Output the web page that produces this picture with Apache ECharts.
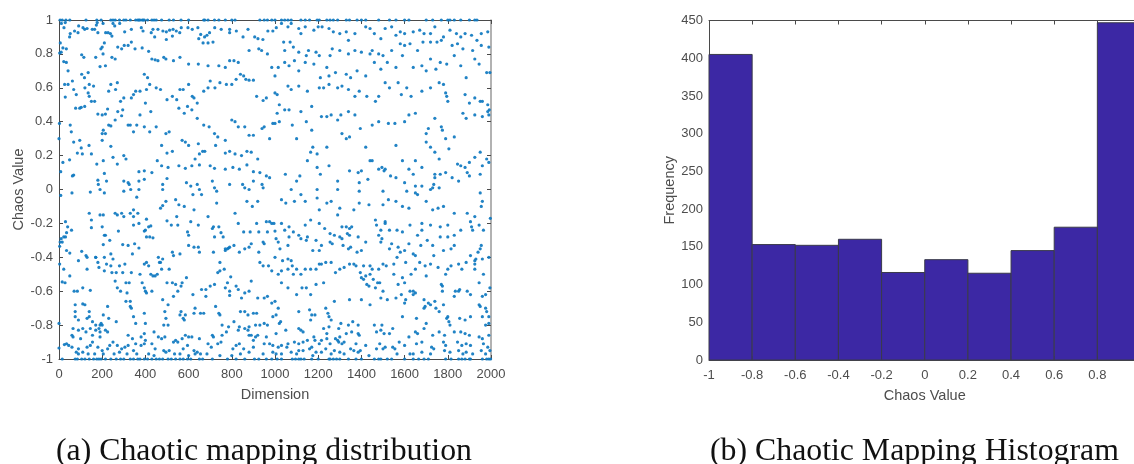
<!DOCTYPE html>
<html><head><meta charset="utf-8">
<style>html,body{margin:0;padding:0;background:#fff}#c{width:1134px;height:464px}</style>
<script src="https://cdn.jsdelivr.net/npm/echarts@6/dist/echarts.min.js"></script>
</head><body><div id="c"></div>
<script>
// Points along the top and bottom bounds of the scatter (dimension only)
const topEdgeDims=[5,15,32,50,125,175,195,240,250,260,280,300,310,330,355,365,370,375,385,390,395,410,430,440,450,475,510,530,565,600,670,675,690,720,740,770,800,815,930,950,965,985,1000,1030,1045,1060,1075,1120,1140,1160,1195,1205,1240,1255,1270,1290,1330,1345,1380,1400,1420,1480,1530,1560,1600,1620,1700,1730,1770,1800,1810,1830,1860,1900,1925,1935];
const bottomEdgeDims=[15,75,85,105,120,140,160,175,185,195,215,240,265,285,300,330,345,365,375,395,410,430,450,465,480,505,520,540,560,575,595,610,650,665,710,780,820,860,905,925,960,985,1010,1030,1080,1095,1110,1120,1135,1170,1200,1250,1255,1270,1285,1300,1340,1375,1400,1460,1480,1490,1520,1540,1600,1640,1665,1690,1710,1790,1815,1850,1865,1880,1900,1905,1960,1980,1990,1998];
// Interior points: [dimension, chaos value]
const upperLeft=[[6,.865],[10,.81],[3,.805],[18,.835],[34,.83],[22,.755],[34,.75],[42,.7],[62,.64],[26,.62],[42,.62],[68,.59],[80,.56],[29,.545],[77,.48],[96,.48],[103,.485],[119,.49],[52,.38],[2,.39],[57,.34],[0,.3],[68,.28],[96,.29],[85,.215],[103,.245],[108,.21],[139,.26],[150,.21],[49,.175],[18,.16],[8,.105],[62,.08],[68,.085],[175,.15],[205,.17],[180,.055],[182,.03],[210,.095],[11,.98],[29,.985],[23,.955],[52,.92],[49,.9],[72,.935],[88,.925],[91,.965],[111,.955],[119,.945],[130,.95],[154,.945],[165,.945],[177,.985],[180,.925],[173,.97],[216,.925],[227,.925],[238,.92],[245,.905],[204,.98],[250,.98],[258,.965],[281,.98],[304,.93],[335,.945],[381,.955],[389,.935],[427,.925],[435,.945],[458,.945],[443,.9],[481,.935],[497,.93],[512,.94],[528,.945],[543,.935],[559,.925],[525,.905],[497,.885],[566,.955],[597,.955],[617,.945],[643,.955],[656,.915],[674,.9],[685,.91],[697,.925],[647,.89],[667,.865],[690,.865],[713,.87],[721,.955],[751,.945],[790,.945],[790,.925],[821,.935],[852,.9],[875,.945],[906,.9],[921,.89],[944,.885],[967,.935],[990,.935],[1006,.955],[210,.865],[200,.84],[194,.83],[204,.8],[105,.795],[115,.78],[170,.78],[190,.725],[215,.73],[245,.78],[260,.77],[272,.84],[290,.83],[302,.85],[320,.85],[335,.87],[352,.83],[385,.835],[415,.815],[430,.77],[445,.765],[458,.76],[485,.78],[495,.77],[530,.76],[560,.78],[600,.74],[645,.74],[690,.73],[740,.73],[770,.72],[790,.76],[810,.76],[830,.75],[855,.67],[880,.82],[925,.83],[938,.82],[965,.8],[985,.72],[1000,.67],[1015,.72],[105,.68],[118,.66],[135,.69],[120,.6],[140,.62],[160,.61],[140,.55],[135,.57],[150,.52],[165,.52],[240,.62],[270,.63],[262,.59],[230,.58],[285,.52],[300,.54],[335,.54],[345,.56],[355,.58],[375,.58],[405,.59],[395,.68],[410,.66],[420,.62],[450,.6],[470,.59],[500,.53],[525,.55],[545,.53],[560,.59],[575,.59],[600,.62],[617,.55],[625,.54],[640,.51],[670,.58],[690,.6],[700,.64],[722,.6],[745,.63],[775,.62],[800,.62],[820,.65],[840,.68],[865,.65],[880,.645],[900,.645],[915,.55],[945,.525],[960,.54],[1000,.57],[1010,.56],[1020,.5],[180,.445],[200,.44],[215,.445],[225,.475],[230,.38],[240,.375],[215,.33],[200,.33],[205,.35],[260,.41],[272,.46],[290,.435],[295,.47],[320,.38],[330,.38],[345,.34],[360,.38],[375,.44],[400,.51],[425,.46],[395,.37],[420,.34],[450,.37],[495,.33],[510,.34],[555,.48],[580,.45],[595,.49],[615,.47],[640,.42],[670,.38],[695,.37],[720,.33],[735,.31],[770,.29],[800,.41],[815,.4],[830,.37],[860,.37],[880,.32],[900,.32],[940,.36],[950,.37],[990,.39],[1000,.39],[1010,.45],[1020,.4],[200,.29],[240,.255],[250,.19],[270,.15],[300,.2],[310,.18],[370,.105],[395,.11],[430,.1],[455,.17],[475,.14],[505,.13],[555,.14],[585,.125],[615,.14],[650,.145],[700,.14],[720,.125],[770,.12],[805,.13],[835,.12],[870,.145],[900,.105],[930,.1],[960,.08],[975,.07],[725,.26],[770,.215],[790,.225],[815,.21],[845,.2],[870,.225],[890,.22],[920,.18],[975,.3],[645,.27],[665,.225],[675,.225],[650,.21],[630,.18],[475,.26],[500,.215],[525,.225],[570,.29],[585,.28],[600,.26],[220,.05],[190,.0],[300,.05],[320,.04],[325,.03],[332,.0],[370,.05],[370,.0],[395,.06],[480,.03],[480,.0],[500,.065],[590,.04],[610,.02],[640,.03],[650,.0],[710,.05],[720,.01],[730,-.01],[790,.03],[850,.03],[860,.01],[880,.0],[900,.05],[940,.03],[945,.01]];
const upperRight=[[1030,.98],[1060,.96],[1075,.98],[1110,.95],[1120,.92],[1140,.96],[1180,.94],[1200,.96],[1218,.96],[1250,.95],[1270,.93],[1300,.92],[1330,.93],[1340,.88],[1370,.92],[1420,.96],[1440,.95],[1460,.92],[1490,.89],[1510,.95],[1540,.96],[1560,.91],[1580,.93],[1600,.92],[1640,.93],[1670,.94],[1690,.92],[1720,.92],[1740,.96],[1780,.9],[1810,.94],[1840,.92],[1860,.9],[1880,.92],[1910,.91],[1935,.88],[1955,.92],[1985,.93],[1040,.87],[1045,.82],[1070,.87],[1085,.84],[1110,.81],[1145,.79],[1155,.82],[1190,.81],[1205,.79],[1255,.79],[1265,.83],[1300,.82],[1340,.8],[1370,.82],[1400,.81],[1440,.8],[1450,.82],[1480,.8],[1500,.79],[1540,.82],[1580,.86],[1600,.85],[1625,.86],[1660,.82],[1685,.87],[1720,.87],[1750,.87],[1770,.88],[1820,.85],[1845,.86],[1870,.83],[1915,.82],[1955,.85],[1990,.84],[1045,.75],[1065,.73],[1090,.76],[1110,.7],[1140,.75],[1180,.74],[1210,.66],[1240,.72],[1250,.67],[1280,.69],[1330,.68],[1350,.66],[1380,.7],[1420,.67],[1460,.75],[1490,.71],[1520,.75],[1560,.72],[1590,.79],[1640,.72],[1680,.73],[1700,.7],[1720,.77],[1745,.71],[1765,.75],[1795,.74],[1830,.79],[1860,.73],[1885,.66],[1925,.77],[1945,.74],[1980,.69],[1995,.69],[1060,.61],[1075,.59],[1110,.61],[1150,.58],[1170,.49],[1205,.6],[1225,.6],[1250,.62],[1290,.6],[1310,.61],[1340,.59],[1370,.55],[1390,.58],[1425,.55],[1465,.52],[1480,.55],[1510,.63],[1530,.6],[1570,.63],[1585,.56],[1610,.6],[1630,.55],[1680,.58],[1720,.6],[1760,.63],[1780,.62],[1790,.57],[1795,.55],[1800,.52],[1880,.56],[1900,.51],[1925,.54],[1950,.52],[1960,.52],[1985,.5],[1992,.47],[1045,.47],[1065,.47],[1120,.46],[1145,.4],[1170,.35],[1215,.43],[1240,.43],[1260,.44],[1290,.41],[1305,.44],[1340,.46],[1370,.44],[1395,.36],[1450,.38],[1480,.4],[1525,.39],[1555,.39],[1600,.4],[1620,.44],[1650,.45],[1700,.33],[1710,.36],[1740,.42],[1770,.37],[1775,.35],[1870,.45],[1885,.42],[1925,.44],[1960,.43],[1985,.46],[1990,.44],[1080,.38],[1100,.3],[1150,.17],[1165,.22],[1175,.25],[1195,.21],[1240,.25],[1250,.14],[1310,.33],[1330,.3],[1345,.31],[1385,.1],[1400,.11],[1420,.25],[1440,.17],[1450,.17],[1480,.12],[1495,.13],[1505,.11],[1560,.26],[1590,.17],[1620,.12],[1650,.17],[1680,.13],[1700,.28],[1720,.25],[1740,.22],[1760,.18],[1790,.3],[1805,.24],[1830,.31],[1860,.14],[1880,.13],[1900,.16],[1925,.19],[1950,.22],[1960,.14],[1980,.18],[1990,.16],[1048,.09],[1100,.05],[1115,.08],[1195,.13],[1210,.09],[1290,.05],[1345,.11],[1390,.04],[1430,.06],[1510,.12],[1535,.08],[1560,.07],[1600,.04],[1640,.09],[1680,.02],[1730,.01],[1735,.03],[1740,.07],[1765,.09],[1790,.1],[1820,.07],[1850,.05],[1890,.1],[1900,.08],[1950,.09],[1845,.15],[1740,.09],[1075,.0],[1195,.0],[1290,.0],[1390,-.01],[1500,-.01],[1610,-.01],[1650,.02],[1650,-.02],[1720,.0],[1760,.01],[1950,-.02]];
const lowerLeft=[[8,-.035],[60,-.02],[145,-.015],[210,-.02],[300,-.01],[360,-.045],[470,-.11],[480,-.095],[495,-.07],[540,-.06],[580,-.1],[555,-.09],[620,-.03],[660,-.03],[730,-.08],[870,-.07],[920,-.07],[895,-.1],[140,-.14],[190,-.15],[205,-.15],[260,-.14],[270,-.15],[290,-.14],[300,-.16],[330,-.14],[345,-.16],[345,-.12],[365,-.14],[30,-.19],[40,-.22],[35,-.255],[58,-.24],[150,-.18],[150,-.225],[200,-.22],[210,-.27],[215,-.27],[275,-.245],[345,-.21],[370,-.2],[405,-.175],[415,-.22],[400,-.24],[395,-.245],[405,-.28],[420,-.28],[435,-.285],[425,-.215],[500,-.185],[520,-.21],[545,-.16],[550,-.21],[610,-.19],[595,-.25],[600,-.27],[625,-.12],[645,-.21],[690,-.16],[710,-.23],[715,-.22],[740,-.22],[750,-.255],[760,-.28],[720,-.28],[790,-.34],[815,-.14],[830,-.2],[855,-.25],[885,-.25],[915,-.2],[925,-.25],[960,-.19],[975,-.19],[985,-.2],[995,-.2],[1000,-.245],[965,-.25],[945,-.31],[950,-.32],[1005,-.29],[1015,-.31],[5,-.31],[15,-.31],[22,-.28],[3,-.335],[30,-.28],[10,-.29],[35,-.36],[50,-.375],[90,-.42],[105,-.365],[125,-.39],[130,-.4],[170,-.4],[180,-.43],[210,-.4],[205,-.325],[235,-.3],[240,-.38],[250,-.41],[295,-.325],[320,-.33],[340,-.38],[350,-.32],[370,-.345],[405,-.43],[460,-.4],[470,-.43],[475,-.47],[500,-.55],[510,-.47],[525,-.37],[530,-.39],[560,-.38],[600,-.33],[625,-.34],[645,-.34],[650,-.37],[715,-.37],[745,-.43],[770,-.36],[780,-.35],[785,-.345],[765,-.47],[770,-.35],[810,-.33],[835,-.37],[860,-.35],[880,-.34],[890,-.32],[925,-.37],[930,-.43],[945,-.45],[970,-.45],[985,-.48],[1000,-.4],[1015,-.5],[3,-.44],[22,-.47],[28,-.55],[15,-.545],[50,-.51],[70,-.6],[85,-.6],[110,-.58],[130,-.47],[145,-.595],[170,-.4],[185,-.46],[210,-.48],[220,-.44],[240,-.45],[245,-.49],[265,-.49],[280,-.45],[295,-.49],[305,-.44],[260,-.54],[270,-.58],[285,-.6],[310,-.55],[315,-.61],[310,-.66],[325,-.55],[335,-.49],[375,-.5],[395,-.44],[415,-.45],[425,-.5],[435,-.51],[445,-.51],[455,-.5],[465,-.43],[480,-.41],[430,-.6],[400,-.6],[405,-.61],[395,-.58],[385,-.55],[525,-.55],[540,-.56],[565,-.57],[550,-.6],[530,-.63],[570,-.55],[590,-.52],[620,-.62],[660,-.59],[680,-.59],[680,-.63],[700,-.57],[720,-.56],[735,-.49],[745,-.48],[780,-.55],[795,-.515],[820,-.57],[830,-.59],[770,-.58],[790,-.6],[790,-.625],[890,-.54],[860,-.61],[845,-.64],[880,-.6],[920,-.64],[950,-.64],[965,-.63],[985,-.67],[1000,-.66],[1015,-.7],[0,-.79],[75,-.68],[75,-.72],[75,-.75],[90,-.77],[110,-.675],[120,-.68],[140,-.72],[140,-.75],[130,-.76],[155,-.78],[170,-.8],[190,-.8],[200,-.8],[195,-.79],[225,-.69],[205,-.74],[230,-.76],[265,-.78],[330,-.66],[330,-.69],[335,-.7],[345,-.75],[355,-.79],[395,-.73],[400,-.79],[490,-.72],[495,-.76],[480,-.65],[505,-.68],[505,-.8],[485,-.8],[565,-.72],[560,-.74],[575,-.76],[580,-.77],[585,-.74],[630,-.7],[625,-.73],[655,-.73],[670,-.73],[725,-.69],[740,-.73],[745,-.74],[755,-.8],[775,-.84],[810,-.78],[840,-.72],[860,-.72],[875,-.74],[900,-.73],[915,-.73],[930,-.8],[950,-.79],[965,-.8],[990,-.75],[1005,-.74],[1020,-.79],[65,-.82],[60,-.86],[65,-.87],[90,-.83],[110,-.82],[100,-.88],[125,-.84],[145,-.82],[155,-.86],[170,-.83],[185,-.82],[190,-.87],[190,-.84],[215,-.83],[225,-.84],[320,-.86],[340,-.88],[380,-.87],[395,-.85],[400,-.89],[440,-.84],[460,-.87],[475,-.88],[490,-.87],[540,-.89],[570,-.88],[585,-.86],[600,-.87],[615,-.87],[650,-.88],[710,-.86],[715,-.87],[755,-.86],[785,-.81],[835,-.81],[830,-.83],[860,-.82],[875,-.83],[880,-.81],[910,-.8],[880,-.86],[890,-.86],[900,-.89],[910,-.87],[920,-.86],[960,-.87],[1005,-.85],[0,-.935],[25,-.915],[35,-.91],[45,-.92],[60,-.93],[80,-.96],[90,-.94],[130,-.93],[145,-.92],[155,-.9],[180,-.93],[200,-.95],[225,-.94],[235,-.92],[250,-.9],[270,-.92],[290,-.94],[305,-.93],[320,-.92],[345,-.95],[355,-.91],[380,-.92],[395,-.91],[430,-.91],[445,-.94],[485,-.95],[510,-.95],[530,-.9],[550,-.9],[575,-.94],[595,-.92],[625,-.95],[640,-.96],[655,-.97],[690,-.91],[705,-.93],[735,-.91],[750,-.9],[805,-.94],[820,-.92],[835,-.91],[855,-.94],[900,-.93],[950,-.91],[975,-.91],[990,-.92],[1015,-.93],[90,-.97],[110,-.96],[135,-.97],[165,-.97],[205,-.97],[255,-.97],[280,-.96],[315,-.97],[360,-.97],[415,-.97],[440,-.98],[495,-.96],[535,-.97],[560,-.97],[600,-.98],[630,-.97],[685,-.97],[745,-.98],[800,-.98],[840,-.97],[880,-.96],[945,-.97],[990,-.96],[1005,-.97]];
const lowerRight=[[1030,-.06],[1050,-.08],[1090,-.07],[1120,-.03],[1140,-.07],[1195,-.05],[1205,-.12],[1240,-.08],[1260,-.07],[1290,-.15],[1300,-.11],[1365,-.12],[1390,-.08],[1435,-.09],[1500,-.09],[1525,-.06],[1560,-.07],[1590,-.1],[1620,-.11],[1660,-.03],[1700,-.07],[1730,-.12],[1755,-.11],[1780,-.1],[1830,-.14],[1890,-.14],[1925,-.16],[1960,-.07],[1955,-.1],[1997,-.17],[1030,-.2],[1065,-.22],[1045,-.24],[1065,-.28],[1085,-.25],[1110,-.27],[1150,-.28],[1140,-.21],[1165,-.18],[1205,-.2],[1230,-.23],[1255,-.26],[1275,-.27],[1310,-.22],[1330,-.22],[1345,-.23],[1355,-.22],[1345,-.27],[1385,-.28],[1335,-.26],[1465,-.18],[1470,-.21],[1490,-.24],[1480,-.27],[1495,-.29],[1510,-.2],[1510,-.19],[1530,-.24],[1565,-.24],[1590,-.25],[1625,-.21],[1660,-.27],[1680,-.24],[1680,-.2],[1720,-.21],[1765,-.22],[1765,-.28],[1800,-.28],[1800,-.21],[1830,-.27],[1860,-.24],[1905,-.19],[1910,-.22],[1915,-.24],[1945,-.21],[1965,-.24],[1023,-.35],[1060,-.33],[1120,-.29],[1145,-.3],[1175,-.36],[1205,-.36],[1190,-.3],[1215,-.33],[1255,-.31],[1265,-.32],[1300,-.28],[1310,-.29],[1315,-.33],[1340,-.35],[1350,-.34],[1380,-.37],[1400,-.36],[1420,-.31],[1490,-.31],[1530,-.35],[1540,-.32],[1570,-.34],[1580,-.37],[1600,-.36],[1620,-.32],[1640,-.38],[1650,-.39],[1675,-.33],[1705,-.3],[1730,-.33],[1735,-.39],[1780,-.36],[1815,-.35],[1830,-.33],[1905,-.39],[1955,-.33],[1960,-.41],[1925,-.44],[1925,-.42],[1940,-.37],[1950,-.35],[1930,-.41],[1035,-.42],[1060,-.41],[1075,-.42],[1080,-.45],[1030,-.48],[1060,-.47],[1085,-.5],[1100,-.47],[1120,-.5],[1140,-.47],[1165,-.47],[1190,-.47],[1205,-.44],[1215,-.44],[1235,-.43],[1260,-.43],[1280,-.49],[1300,-.47],[1320,-.46],[1345,-.44],[1365,-.44],[1375,-.45],[1410,-.45],[1440,-.45],[1450,-.47],[1480,-.47],[1500,-.44],[1515,-.45],[1550,-.44],[1565,-.4],[1605,-.43],[1650,-.47],[1670,-.43],[1695,-.45],[1720,-.44],[1755,-.46],[1790,-.5],[1800,-.47],[1815,-.45],[1850,-.44],[1865,-.47],[1885,-.43],[1925,-.47],[1990,-.4],[1995,-.58],[1400,-.52],[1420,-.51],[1410,-.53],[1425,-.56],[1435,-.57],[1455,-.53],[1475,-.55],[1465,-.58],[1485,-.55],[1440,-.5],[1395,-.49],[1550,-.5],[1570,-.56],[1600,-.55],[1590,-.52],[1630,-.5],[1640,-.6],[1650,-.61],[1700,-.51],[1770,-.56],[1775,-.57],[1830,-.63],[1835,-.6],[1850,-.6],[1855,-.59],[1890,-.6],[1905,-.62],[1945,-.55],[1965,-.5],[1975,-.62],[1030,-.55],[1060,-.58],[1100,-.62],[1125,-.58],[1145,-.58],[1165,-.62],[1190,-.56],[1225,-.55],[1275,-.66],[1345,-.65],[1400,-.65],[1440,-.68],[1490,-.64],[1500,-.6],[1520,-.65],[1560,-.64],[1585,-.62],[1625,-.6],[1640,-.62],[1600,-.67],[1605,-.65],[1690,-.65],[1695,-.69],[1710,-.67],[1690,-.7],[1720,-.68],[1740,-.66],[1745,-.7],[1760,-.72],[1780,-.68],[1775,-.6],[1800,-.75],[1960,-.63],[1945,-.68],[1950,-.69],[1975,-.7],[1980,-.72],[1026,-.78],[1110,-.72],[1160,-.71],[1170,-.74],[1185,-.74],[1165,-.77],[1235,-.7],[1245,-.73],[1250,-.75],[1260,-.77],[1225,-.82],[1250,-.81],[1305,-.79],[1340,-.8],[1360,-.78],[1385,-.8],[1460,-.8],[1490,-.83],[1495,-.8],[1545,-.82],[1590,-.75],[1655,-.76],[1700,-.79],[1795,-.76],[1805,-.78],[1810,-.8],[1855,-.76],[1880,-.77],[1905,-.75],[1960,-.75],[1990,-.75],[1975,-.8],[1990,-.79],[1110,-.82],[1120,-.83],[1130,-.84],[1050,-.83],[1180,-.87],[1240,-.85],[1295,-.82],[1355,-.84],[1385,-.85],[1390,-.86],[1470,-.84],[1505,-.85],[1530,-.85],[1620,-.87],[1650,-.84],[1660,-.85],[1690,-.82],[1730,-.86],[1760,-.84],[1785,-.86],[1830,-.84],[1860,-.84],[1900,-.86],[1880,-.85],[1960,-.88],[1990,-.86],[1945,-.87],[1060,-.91],[1030,-.92],[1055,-.93],[1090,-.9],[1110,-.91],[1130,-.9],[1150,-.89],[1170,-.93],[1185,-.89],[1205,-.91],[1215,-.89],[1240,-.88],[1255,-.91],[1280,-.88],[1290,-.89],[1300,-.87],[1295,-.9],[1310,-.91],[1320,-.9],[1330,-.85],[1375,-.91],[1395,-.95],[1420,-.92],[1470,-.94],[1485,-.91],[1510,-.93],[1545,-.93],[1575,-.9],[1600,-.92],[1655,-.91],[1680,-.9],[1725,-.93],[1735,-.94],[1780,-.9],[1790,-.92],[1810,-.96],[1845,-.9],[1865,-.92],[1885,-.91],[1905,-.92],[1965,-.91],[1985,-.93],[1030,-.97],[1075,-.96],[1100,-.97],[1110,-.95],[1130,-.95],[1160,-.94],[1175,-.98],[1190,-.96],[1215,-.96],[1235,-.94],[1260,-.97],[1275,-.95],[1300,-.96],[1320,-.97],[1350,-.94],[1365,-.95],[1385,-.96],[1435,-.98],[1500,-.94],[1555,-.94],[1565,-.97],[1625,-.97],[1640,-.97],[1680,-.96],[1720,-.97],[1785,-.95],[1850,-.95],[1870,-.97],[1885,-.96],[1915,-.97],[1955,-.95],[1975,-.97],[1995,-.95]];
// Histogram
const binEdges=[-1,-0.8,-0.6,-0.4,-0.2,0,0.2,0.4,0.6,0.8,1];
const binCounts=[405,153,152,160,116,133,115,145,176,447];

const scatterData=[].concat(topEdgeDims.map(d=>[d,1]),bottomEdgeDims.map(d=>[d,-1]),upperLeft,upperRight,lowerLeft,lowerRight);
const histData=binCounts.map((c,i)=>[binEdges[i],binEdges[i+1],c]);

const FONT='"Liberation Sans",Arial,sans-serif', AX='#4a4a4a', TXT='#4d4d4d';
const lbl={color:TXT,fontFamily:FONT,fontSize:13,margin:6};
const lblX=Object.assign({},lbl,{margin:9});
const nm={color:TXT,fontFamily:FONT,fontSize:14.5};
function axis(extra,pos){return Object.assign({
  position:pos,axisLine:{show:true,onZero:false,lineStyle:{color:AX,width:1}},
  axisTick:{show:true,inside:true,length:4,lineStyle:{color:AX,width:1}},
  axisLabel:lbl,splitLine:{show:false},nameLocation:'middle',nameTextStyle:nm},extra);}
function mirror(extra,pos,col){return Object.assign({
  position:pos,axisLine:{show:true,onZero:false,lineStyle:{color:col,width:col===AX?1:1.5}},
  axisTick:{show:true,inside:true,length:4,lineStyle:{color:AX,width:1}},
  axisLabel:{show:false},splitLine:{show:false}},extra);}
const sx={type:'value',min:0,max:2000,interval:200}, sy={type:'value',min:-1,max:1,interval:0.2};
const hx={type:'value',min:-1,max:1,interval:0.2}, hy={type:'value',min:0,max:450,interval:50};
const fmt=v=>String(Math.round(v*10)/10);
const capFont={fontFamily:'"Liberation Serif","Times New Roman",serif',fontSize:31.8,fontWeight:'normal',color:'#111'};

const chart=echarts.init(document.getElementById('c'),null,{renderer:'canvas'});
chart.setOption({
  animation:false,backgroundColor:'#fff',
  title:[
    {text:'(a) Chaotic mapping distribution',left:51,top:431,textStyle:capFont},
    {text:'(b) Chaotic Mapping Histogram',left:705,top:431,textStyle:capFont}
  ],
  grid:[{left:59,top:20,width:432,height:339,outerBoundsMode:'none'},{left:709,top:20.5,width:431.5,height:339.5,outerBoundsMode:'none'}],
  xAxis:[
    axis(Object.assign({},sx,{gridIndex:0,name:'Dimension',nameGap:28,axisLabel:Object.assign({},lblX,{formatter:fmt})}),'bottom'),
    mirror(Object.assign({},sx,{gridIndex:0}),'top',AX),
    axis(Object.assign({},hx,{gridIndex:1,name:'Chaos Value',nameGap:28,axisLabel:Object.assign({},lblX,{formatter:fmt})}),'bottom'),
    mirror(Object.assign({},hx,{gridIndex:1}),'top',AX)
  ],
  yAxis:[
    axis(Object.assign({},sy,{gridIndex:0,name:'Chaos Value',nameGap:33,axisLabel:Object.assign({},lbl,{formatter:fmt})}),'left'),
    mirror(Object.assign({},sy,{gridIndex:0}),'right','#999999'),
    axis(Object.assign({},hy,{gridIndex:1,name:'Frequency',nameGap:32}),'left'),
    mirror(Object.assign({},hy,{gridIndex:1}),'right',AX)
  ],
  series:[
    {type:'scatter',xAxisIndex:0,yAxisIndex:0,data:scatterData,symbolSize:3.2,clip:false,
      itemStyle:{color:'#0e78c0',opacity:0.92},silent:true},
    {type:'custom',xAxisIndex:2,yAxisIndex:2,data:histData,clip:false,silent:true,z:3,
      encode:{x:[0,1],y:2},
      renderItem:(p,api)=>{
        const a=api.coord([api.value(0),api.value(2)]), b=api.coord([api.value(1),0]);
        return {type:'rect',shape:{x:a[0],y:a[1],width:b[0]-a[0],height:b[1]-a[1]},
          style:{fill:'#3c28a4',stroke:'#3a3a4a',lineWidth:1}};
      }}
  ]
});
</script></body></html>
